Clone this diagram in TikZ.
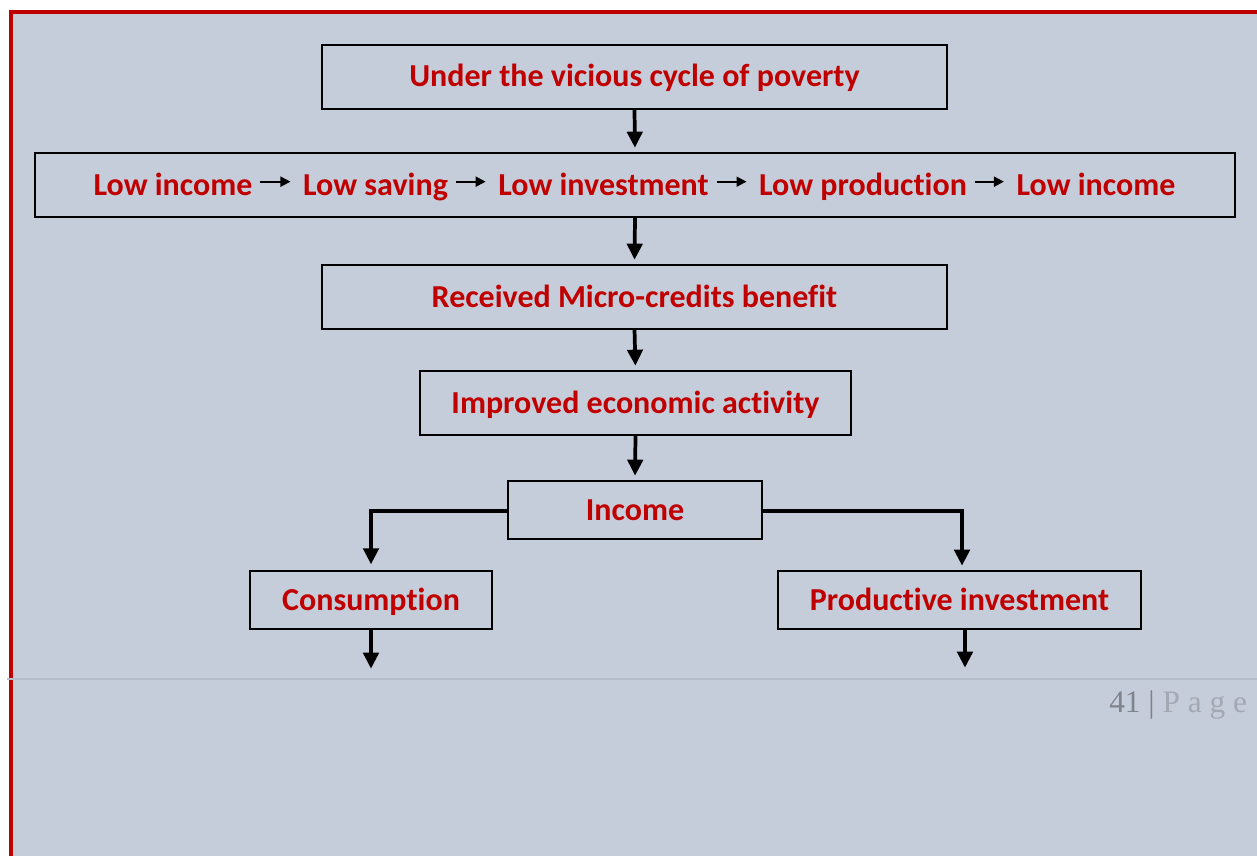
\documentclass[tikz,border=0pt]{standalone}
\usepackage{fontspec}
\setmainfont{Carlito}[Ligatures={NoCommon}]
\newfontfamily\pgserif{Liberation Serif}
\usetikzlibrary{arrows.meta}
\definecolor{bg}{HTML}{C6CDDA}
\definecolor{txtred}{HTML}{C00000}
\definecolor{frame}{HTML}{C00000}
\definecolor{rule}{HTML}{B6BDCB}
\definecolor{pgdark}{HTML}{7F838C}
\definecolor{pglight}{HTML}{A3A8B2}
\begin{document}
\begin{tikzpicture}[x=0.75pt,y=-0.75pt,
  box/.style={draw=black, line width=1.7pt, inner sep=0pt, outer sep=0pt,
    text=txtred, font=\bfseries\fontsize{24}{28}\selectfont,
    text height=18pt, text depth=3pt},
  word/.style={inner sep=0pt, outer sep=0pt, text=txtred,
    font=\bfseries\fontsize{24}{28}\selectfont,
    text height=18pt, text depth=3pt},
  arr/.style={line width=2.8pt, -{Triangle[width=11.5pt,length=12pt]}, shorten >=4pt},
  iarr/.style={line width=1.5pt, -{Triangle[width=7.5pt,length=7.5pt]}}
]
\useasboundingbox (0,0) rectangle (1257,856);
% page background and frame
\fill[bg] (9,10) rectangle (1257,856);
\fill[frame] (9,10) rectangle (1257,14);
\fill[frame] (9,10) rectangle (13,856);
\draw[rule, line width=1.5pt] (7,679) -- (1257,679);

% boxes
\node[box, minimum width=468.75pt, minimum height=48pt] (top) at (634.5,77) {Under the vicious cycle of poverty};
\node[box, minimum width=900pt, minimum height=48pt] (row) at (635,185) {};
\node[box, minimum width=468.75pt, minimum height=48pt] (recv) at (634.5,297) {Received Micro-credits benefit};
\node[box, minimum width=323.25pt, minimum height=48pt] (impr) at (635.5,403) {Improved economic activity};
\node[box, minimum width=190.5pt, minimum height=43.5pt] (inc) at (635,510) {Income};
\node[box, minimum width=181.5pt, minimum height=43.5pt] (cons) at (371,600) {Consumption};
\node[box, minimum width=272.25pt, minimum height=43.5pt] (prod) at (959.5,600) {Productive investment};

% words in the cycle row
\node[word] (w1) at (173,185) {Low income};
\node[word] (w2) at (375.5,185) {Low saving};
\node[word] (w3) at (603.5,185) {Low investment};
\node[word] (w4) at (863,185) {Low production};
\node[word] (w5) at (1096,185) {Low income};
\foreach \a/\b in {w1/w2,w2/w3,w3/w4,w4/w5}
  \draw[iarr, shorten <=6pt, shorten >=9.5pt] ([yshift=2.5pt]\a.east) -- ([yshift=2.5pt]\b.west);

% vertical connectors
\draw[arr] (top.south) -- (row.north);
\draw[arr] (row.south) -- (recv.north);
\draw[arr] (recv.south) -- (impr.north);
\draw[arr] (impr.south) -- (inc.north);
\draw[arr, shorten >=5pt] ([yshift=-0.75pt]inc.west) -| (cons.north);
\draw[arr] ([yshift=-0.75pt]inc.east) -| ([xshift=1.9pt]prod.north);

\coordinate (cend) at (371,674);
\coordinate (pend) at (965,673);
\draw[arr] (cons.south) -- (cend);
\draw[arr] ([xshift=4.1pt]prod.south) -- (pend);

% page number
\node[anchor=base west, inner sep=0pt, font=\pgserif\fontsize{23.5}{28}\selectfont] (pg) at (1109,712)
  {\textcolor{pgdark}{41 |} \textcolor{pglight}{P a g e}};
\end{tikzpicture}
\end{document}
